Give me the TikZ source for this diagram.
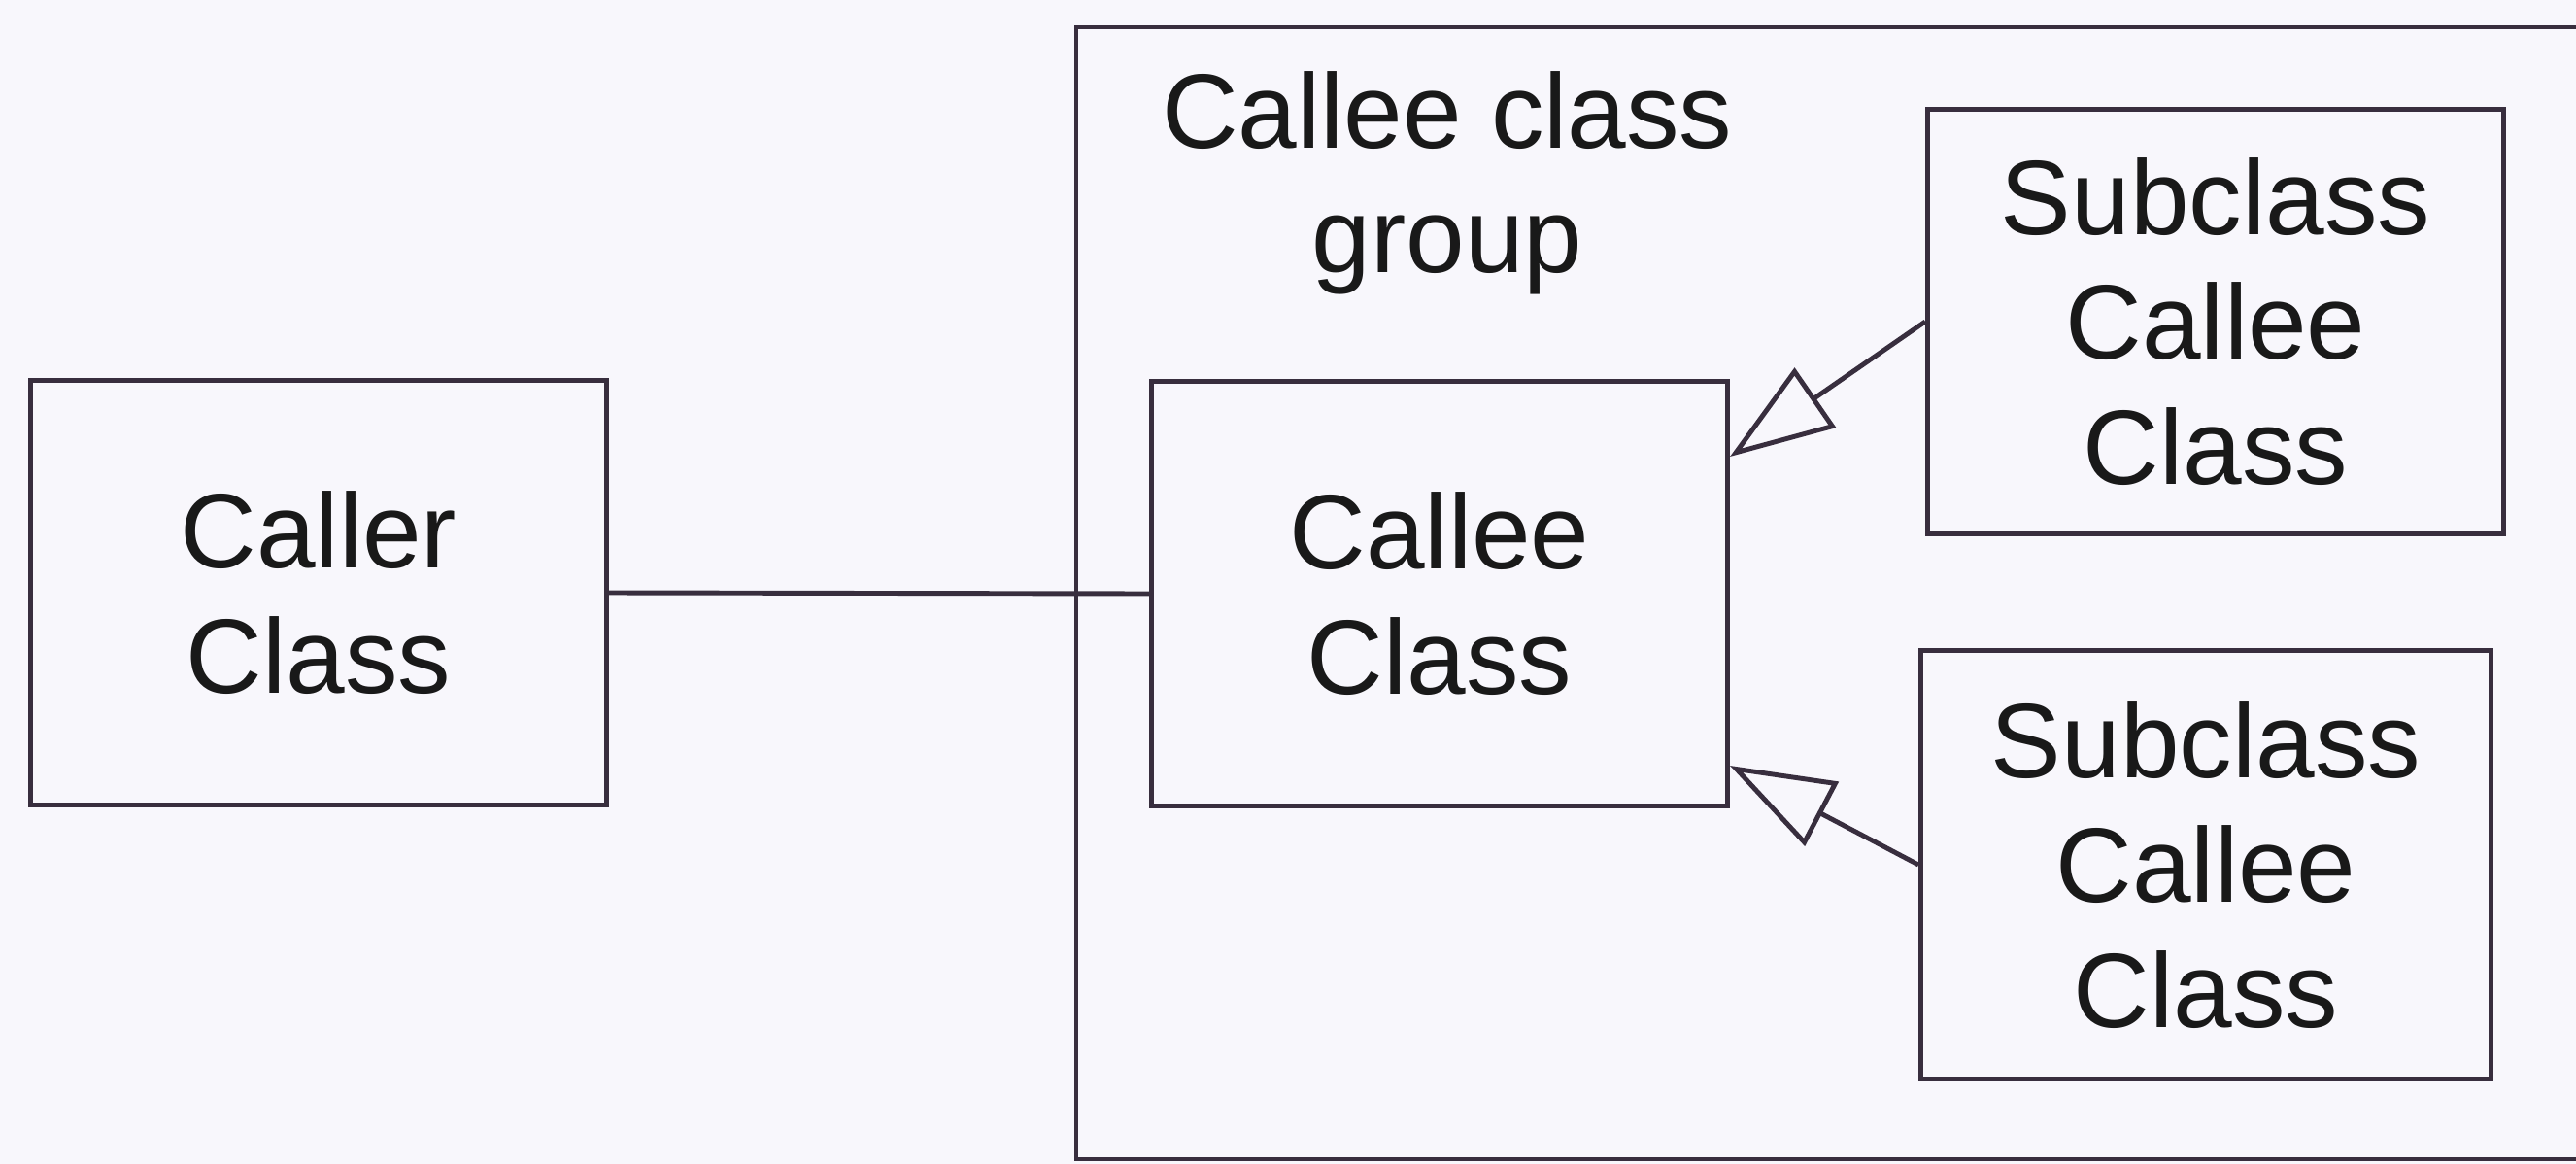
\documentclass[tikz,border=0pt]{standalone}
\usepackage{fontspec}
\setmainfont{Liberation Sans}
\usetikzlibrary{arrows.meta}

\definecolor{ink-grey}{RGB}{56, 46, 62}
\definecolor{paper-white}{RGB}{248, 247, 252}

\begin{document}
\begin{tikzpicture}[
        x=1cm, y=-1cm,
        every node/.style={align=center, inner sep=0pt, text=black!90,
            font=\fontsize{31}{36.5}\selectfont},
        classbox/.style={shape=rectangle, draw=ink-grey, line width=1.4pt,
            minimum width=5.93cm, minimum height=4.37cm},
        link/.style={draw=ink-grey, line width=1.4pt},
        inherits/.style={link, -{Triangle[open, length=1.07cm, width=0.74cm]}},
    ]
    \fill[paper-white] (0,0) rectangle (26.52,11.98);
    \useasboundingbox (0,0) rectangle (26.52,11.98);

    % the group runs off the right edge
    \draw[link] (11.08,0.28) rectangle (27.20,11.93);
    \node (grouplabel) at (14.90,1.88) {Callee class\\group};

    \node[classbox] (caller) at (3.28,6.10) {Caller\\Class};
    \node[classbox] (callee) at (14.82,6.11) {Callee\\Class};
    \node[classbox] (sub-a) at (22.81,3.31) {Subclass\\Callee\\Class};
    \node[classbox, minimum width=5.87cm, minimum height=4.41cm] (sub-b) at (22.71,8.90) {Subclass\\Callee\\Class};

    \draw[link] (caller.east) -- (callee.west);
    \draw[inherits] (sub-a.west) -- ([yshift=1.41cm]callee.east);
    \draw[inherits] (sub-b.west) -- ([yshift=-1.77cm]callee.east);
\end{tikzpicture}
\end{document}
